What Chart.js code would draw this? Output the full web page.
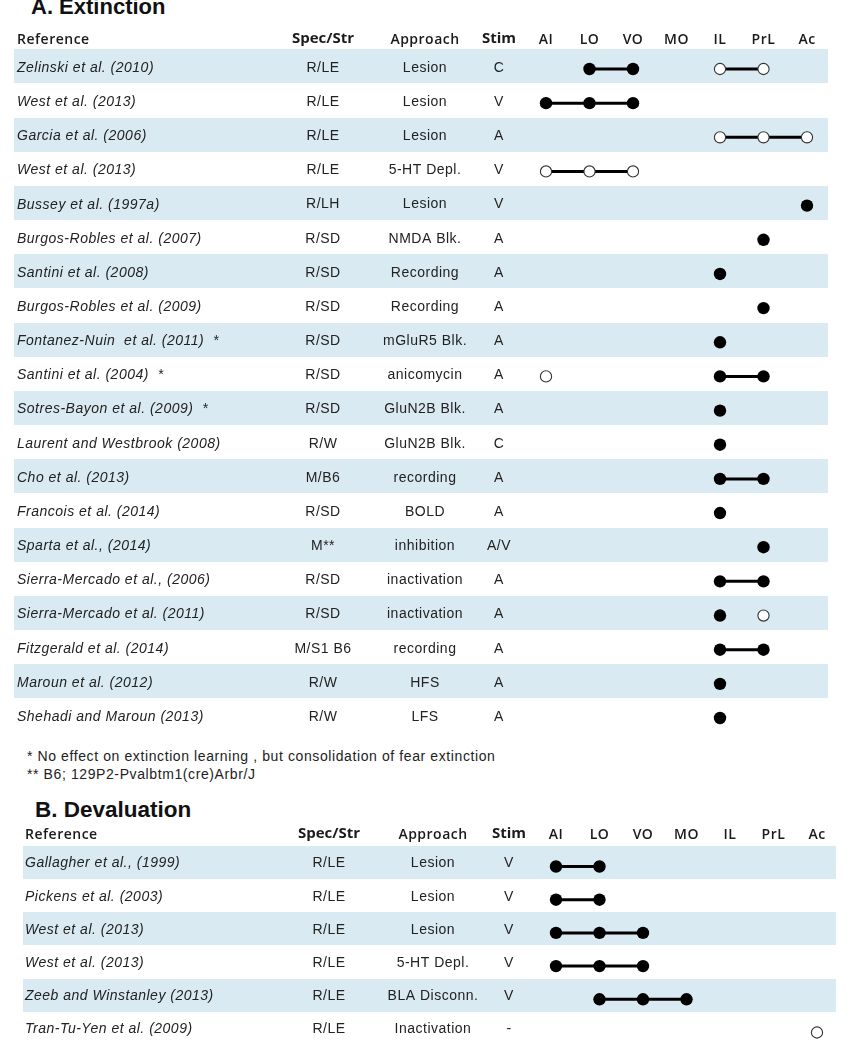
<!DOCTYPE html>
<html>
<head>
<meta charset="utf-8">
<script src="https://cdn.jsdelivr.net/npm/chart.js@4.4.0/dist/chart.umd.min.js"></script>
<style>
  body { margin: 0; background: #fff; width: 851px; height: 1050px; position: relative; overflow: hidden;
         font-family: "Liberation Sans", Arial, sans-serif; }
  .title { position: absolute; font-weight: bold; font-size: 22px; color: #111; white-space: pre; }
  .note { position: absolute; font-size: 14px; color: #222; letter-spacing: 0.6px; white-space: pre; }
  canvas { position: absolute; left: 0; }
</style>
</head>
<body>
<div class="title" style="left:31px;top:-6px">A. Extinction</div>
<canvas id="chartA" width="851" height="740" style="top:0"></canvas>
<div class="note" style="left:27px;top:748px">* No effect on extinction learning , but consolidation of fear extinction</div>
<div class="note" style="left:27px;top:766px">** B6; 129P2-Pvalbtm1(cre)Arbr/J</div>
<div class="title" style="left:35px;top:797px;font-size:22.5px">B. Devaluation</div>
<canvas id="chartB" width="851" height="260" style="top:790px"></canvas>

<script>
// Regions (columns)
const regions = ['AI', 'LO', 'VO', 'MO', 'IL', 'PrL', 'Ac'];

// A. Extinction
const extRefs = [
  'Zelinski et al. (2010)', 'West et al. (2013)', 'Garcia et al. (2006)', 'West et al. (2013)',
  'Bussey et al. (1997a)', 'Burgos-Robles et al. (2007)', 'Santini et al. (2008)',
  'Burgos-Robles et al. (2009)', 'Fontanez-Nuin  et al. (2011)  *', 'Santini et al. (2004)  *',
  'Sotres-Bayon et al. (2009)  *', 'Laurent and Westbrook (2008)', 'Cho et al. (2013)',
  'Francois et al. (2014)', 'Sparta et al., (2014)', 'Sierra-Mercado et al., (2006)',
  'Sierra-Mercado et al. (2011)', 'Fitzgerald et al. (2014)', 'Maroun et al. (2012)',
  'Shehadi and Maroun (2013)'
];
const extSpec = ['R/LE', 'R/LE', 'R/LE', 'R/LE', 'R/LH', 'R/SD', 'R/SD', 'R/SD', 'R/SD', 'R/SD',
  'R/SD', 'R/W', 'M/B6', 'R/SD', 'M**', 'R/SD', 'R/SD', 'M/S1 B6', 'R/W', 'R/W'];
const extApproach = ['Lesion', 'Lesion', 'Lesion', '5-HT Depl.', 'Lesion', 'NMDA Blk.', 'Recording',
  'Recording', 'mGluR5 Blk.', 'anicomycin', 'GluN2B Blk.', 'GluN2B Blk.', 'recording', 'BOLD',
  'inhibition', 'inactivation', 'inactivation', 'recording', 'HFS', 'LFS'];
const extStim = ['C', 'V', 'A', 'V', 'V', 'A', 'A', 'A', 'A', 'A', 'A', 'C', 'A', 'A', 'A/V', 'A', 'A', 'A', 'A', 'A'];
// connected groups of regions per row: filled = effect, open = no effect
const extFilled = [
  [['LO', 'VO']], [['AI', 'LO', 'VO']], [], [], [['Ac']], [['PrL']], [['IL']], [['PrL']], [['IL']],
  [['IL', 'PrL']], [['IL']], [['IL']], [['IL', 'PrL']], [['IL']], [['PrL']], [['IL', 'PrL']],
  [['IL']], [['IL', 'PrL']], [['IL']], [['IL']]
];
const extOpen = [
  [['IL', 'PrL']], [], [['IL', 'PrL', 'Ac']], [['AI', 'LO', 'VO']], [], [], [], [], [],
  [['AI']], [], [], [], [], [], [], [['PrL']], [], [], []
];

// B. Devaluation
const devRefs = ['Gallagher et al., (1999)', 'Pickens et al. (2003)', 'West et al. (2013)',
  'West et al. (2013)', 'Zeeb and Winstanley (2013)', 'Tran-Tu-Yen et al. (2009)'];
const devSpec = ['R/LE', 'R/LE', 'R/LE', 'R/LE', 'R/LE', 'R/LE'];
const devApproach = ['Lesion', 'Lesion', 'Lesion', '5-HT Depl.', 'BLA Disconn.', 'Inactivation'];
const devStim = ['V', 'V', 'V', 'V', 'V', '-'];
const devFilled = [[['AI', 'LO']], [['AI', 'LO']], [['AI', 'LO', 'VO']], [['AI', 'LO', 'VO']], [['LO', 'VO', 'MO']], []];
const devOpen = [[], [], [], [], [], [['Ac']]];

const bodyFont = '"Liberation Sans", Arial, sans-serif';
const headFont = '"Open Sans", sans-serif';

function groupDataset(group, row, filled) {
    return {
        data: group.map(name => ({ x: regions.indexOf(name), y: row })),
        showLine: true,
        borderColor: '#000',
        borderWidth: 3,
        pointRadius: filled ? 6.2 : 5.6,
        pointHoverRadius: filled ? 6.2 : 5.6,
        pointBackgroundColor: filled ? '#000' : '#fff',
        pointBorderColor: filled ? '#000' : '#333',
        pointBorderWidth: filled ? 0 : 1.1,
        clip: false
    };
}

// draws the stripes, header and text columns of the table
const tablePlugin = {
    id: 'table',
    beforeDatasetsDraw(chart) {
        const t = chart.options.plugins.table;
        const { ctx } = chart;
        const xs = chart.scales.x, ys = chart.scales.y;
        const step = Math.abs(ys.getPixelForValue(1) - ys.getPixelForValue(0));
        ctx.save();
        t.refs.forEach((ref, i) => {
            const yc = ys.getPixelForValue(i);
            if (i % 2 === 0) {
                ctx.fillStyle = '#d9eaf2';
                const top = yc + t.stripeShift - step / 2;
                ctx.fillRect(t.stripeL, Math.round(top), t.stripeR - t.stripeL, Math.round(step - 0.5));
            }
            const yt = yc + t.textShift;
            ctx.fillStyle = '#222';
            ctx.textBaseline = 'middle';
            ctx.letterSpacing = '0.5px';
            ctx.font = 'italic 14px ' + bodyFont;
            ctx.textAlign = 'left';
            ctx.fillText(ref, t.refX, yt);
            ctx.font = '14px ' + bodyFont;
            ctx.textAlign = 'center';
            ctx.fillText(t.spec[i], t.specX, yt);
            ctx.fillText(t.approach[i], t.apprX, yt);
            ctx.fillText(t.stim[i], t.stimX, yt);
        });
        // header
        ctx.fillStyle = '#1a1a1a';
        ctx.textBaseline = 'middle';
        ctx.letterSpacing = '0.5px';
        ctx.font = '600 14px ' + headFont;
        ctx.textAlign = 'left';
        ctx.fillText('Reference', t.refX, t.headY);
        ctx.textAlign = 'center';
        ctx.fillText('Approach', t.apprX, t.headY);
        regions.forEach((r, i) => ctx.fillText(r, xs.getPixelForValue(i), t.headY));
        ctx.letterSpacing = '0px';
        ctx.font = 'bold 15px ' + headFont;
        ctx.fillText('Spec/Str', t.specX, t.headY - 1);
        ctx.fillText('Stim', t.stimX, t.headY - 1);
        ctx.restore();
    }
};

function makeTable(id, refs, spec, approach, stim, filled, open, L) {
    const canvas = document.getElementById(id);
    const datasets = [];
    open.forEach((groups, r) => groups.forEach(g => datasets.push(groupDataset(g, r, false))));
    filled.forEach((groups, r) => groups.forEach(g => datasets.push(groupDataset(g, r, true))));
    return new Chart(canvas.getContext('2d'), {
        type: 'scatter',
        data: { datasets },
        options: {
            responsive: false,
            animation: false,
            events: [],
            layout: {
                padding: { left: L.x0, right: canvas.width - L.x1, top: L.y0, bottom: canvas.height - L.y1 }
            },
            scales: {
                x: { display: false, min: 0, max: regions.length - 1 },
                y: { display: false, min: 0, max: refs.length - 1, reverse: true }
            },
            plugins: {
                legend: { display: false },
                tooltip: { enabled: false },
                table: Object.assign({ refs, spec, approach, stim }, L)
            }
        },
        plugins: [tablePlugin]
    });
}

makeTable('chartA', extRefs, extSpec, extApproach, extStim, extFilled, extOpen, {
    x0: 546, x1: 807, y0: 69, y1: 718,
    stripeL: 14, stripeR: 828, stripeShift: -2.5, textShift: -1,
    refX: 17, specX: 323, apprX: 425, stimX: 499, headY: 40
});

makeTable('chartB', devRefs, devSpec, devApproach, devStim, devFilled, devOpen, {
    x0: 556, x1: 817, y0: 76.5, y1: 242.5,
    stripeL: 23, stripeR: 836, stripeShift: -4, textShift: -3,
    refX: 25, specX: 329, apprX: 433, stimX: 509, headY: 45
});
</script>
</body>
</html>
